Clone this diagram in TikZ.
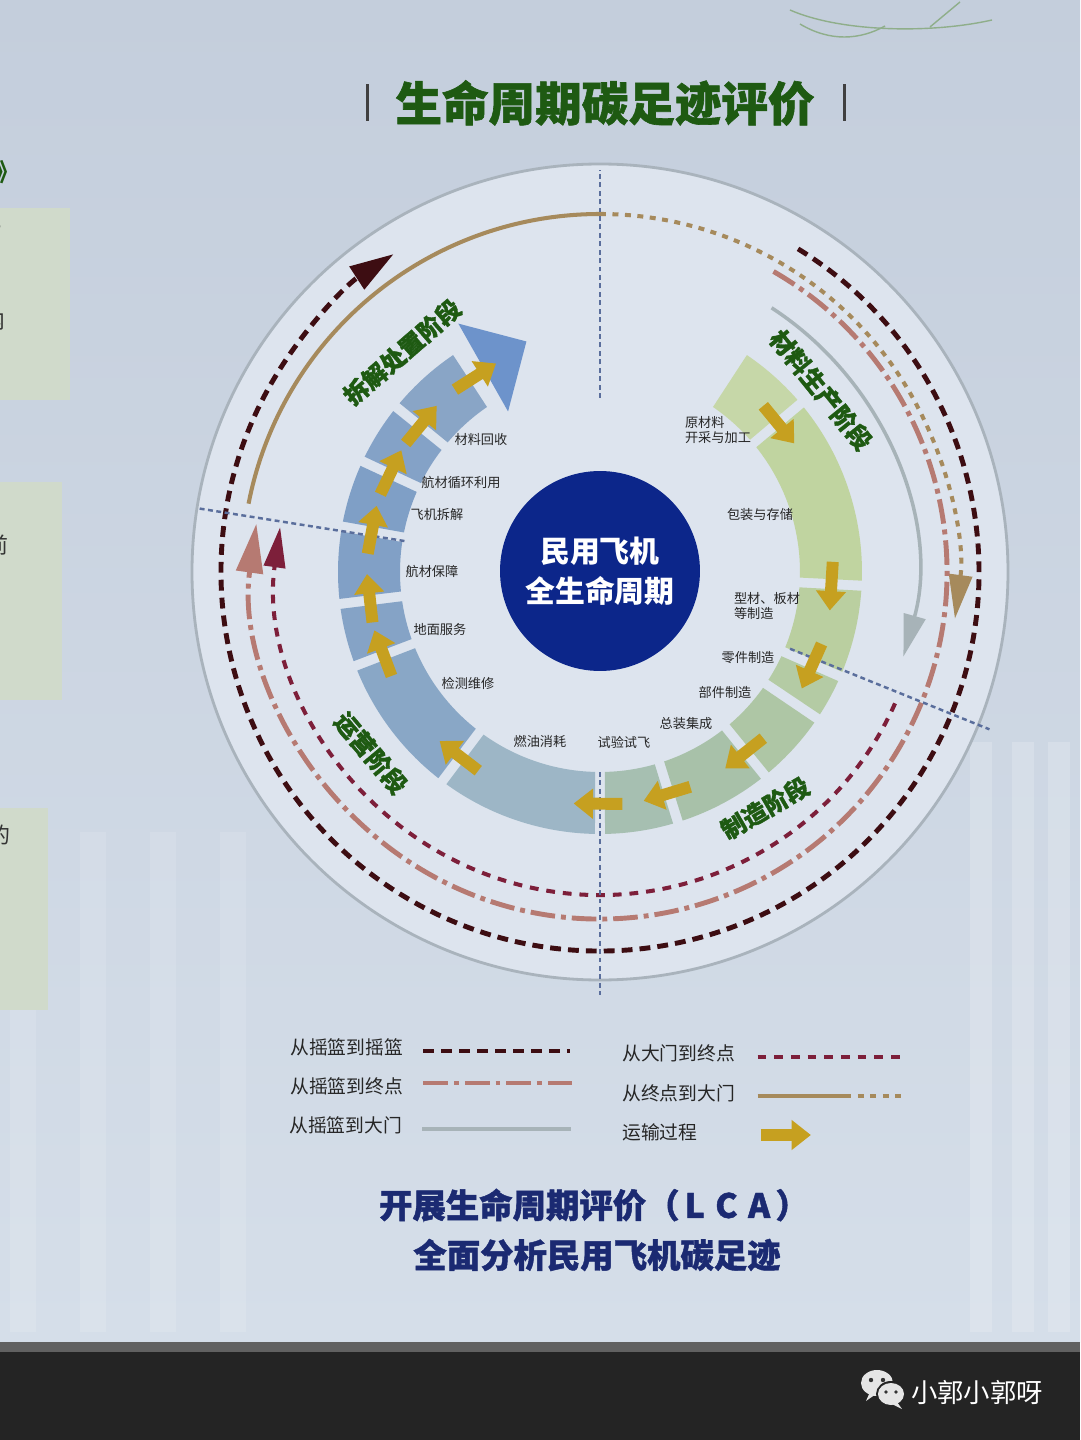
\documentclass[tikz,border=0pt]{standalone}
\usepackage{fontspec}
\setmainfont{Noto Sans CJK SC}
\newfontfamily\heavyfont[BoldFeatures={FakeBold=1.3}]{Noto Sans CJK SC}
\usepackage{tikz}
\usetikzlibrary{arrows.meta, positioning, calc}

\definecolor{TitleGreen}{HTML}{1E5A12}
\definecolor{HubNavy}{HTML}{0C268A}
\definecolor{TextNavy}{HTML}{1B2A72}
\definecolor{TransGold}{HTML}{C6A020}
\definecolor{CradleRed}{HTML}{3D0D12}
\definecolor{GraveRose}{HTML}{B67A72}
\definecolor{GateMaroon}{HTML}{7D1F3A}
\definecolor{GateGray}{HTML}{A7B3B8}
\definecolor{ReturnGold}{HTML}{A68A5C}
\definecolor{DividerBlue}{HTML}{5A6E9C}
\definecolor{RimGray}{HTML}{A9B3BC}
\definecolor{BgTop}{HTML}{C4CEDC}
\definecolor{BgLow}{HTML}{D5DEE9}
\definecolor{BgDisc}{HTML}{DDE4EE}
\definecolor{PanelGreen}{HTML}{D0DACB}
\definecolor{SketchGreen}{HTML}{8FAE8A}
\definecolor{MatA}{HTML}{C6D7A8}
\definecolor{MatB}{HTML}{C0D4A0}
\definecolor{MatC}{HTML}{BACFA0}
\definecolor{ManA}{HTML}{B4CBA4}
\definecolor{ManB}{HTML}{AEC6A5}
\definecolor{ManC}{HTML}{A8C1A9}
\definecolor{ManD}{HTML}{A6BFB1}
\definecolor{OpsA}{HTML}{9DB6C6}
\definecolor{OpsB}{HTML}{89A7C6}
\definecolor{OpsC}{HTML}{85A3C6}
\definecolor{OpsD}{HTML}{81A0C6}
\definecolor{DisA}{HTML}{7F9FC6}
\definecolor{DisB}{HTML}{84A2C7}
\definecolor{DisC}{HTML}{89A5C6}
\definecolor{DisHead}{HTML}{6D93CB}

% one block of the ring: start angle, end angle (clockwise), colour
\newcommand{\ringseg}[3]{%
  \fill[#3] ({#1-1.4}:200) arc[start angle={#1-1.4}, end angle={#2+1.4}, radius=200]
    -- ({#2+1.1}:262) arc[start angle={#2+1.1}, end angle={#1-1.1}, radius=262] -- cycle;}

\begin{document}
\begin{tikzpicture}[x=0.02cm, y=0.02cm,
  seglabel/.style={font=\fontsize{7.5}{9}\selectfont, text=black!85, align=left, inner sep=0pt},
  stagelabel/.style={font=\fontsize{13.8}{15}\selectfont\heavyfont\bfseries, text=TitleGreen, inner sep=0pt},
  legtext/.style={font=\fontsize{10.7}{12}\selectfont, text=black!85, anchor=west, inner sep=0pt},
  slogan/.style={font=\fontsize{19}{21}\selectfont\heavyfont\bfseries, text=TextNavy},
  divider/.style={DividerBlue, line width=1.4pt, dash pattern=on 2.8pt off 2pt},
  transport/.style={TransGold, line width=6.8pt, -{Triangle[width=16.5pt,length=11pt]}},
  cradle/.style={CradleRed, line width=2.8pt, dash pattern=on 6.2pt off 4pt},
  grave/.style={GraveRose, line width=2.8pt, dash pattern=on 14pt off 3.4pt on 2.8pt off 3.4pt},
  gategrave/.style={GateMaroon, line width=2.3pt, dash pattern=on 5pt off 4.5pt},
  gate/.style={GateGray, line width=2pt},
  returnline/.style={ReturnGold, line width=2.3pt},
  returndot/.style={ReturnGold, line width=2.3pt, dash pattern=on 3.4pt off 3.7pt},
  hub/.style={circle, fill=HubNavy, minimum size=4cm, inner sep=0pt, text=white, align=center,
    font=\fontsize{17}{22.7}\selectfont\bfseries}]

  % --- Background ---
  \useasboundingbox (-600,-868) rectangle (480,572);
  \shade[top color=BgTop, bottom color=BgLow] (-600,-770) rectangle (480,572);
  \foreach \sx in {370,412,448} \fill[white, opacity=0.18] (\sx,-170) rectangle ++(22,-590);
  \foreach \sx in {-590,-520,-450,-380} \fill[white, opacity=0.12] (\sx,-260) rectangle ++(26,-500);
  \fill[BgDisc] (0,0) circle[radius=408];
  \fill[PanelGreen] (-600,364) rectangle (-530,172);
  \fill[PanelGreen] (-600,90) rectangle (-538,-128);
  \fill[PanelGreen] (-600,-236) rectangle (-552,-438);
  \node[font=\fontsize{14}{15}\selectfont\bfseries, text=TitleGreen] (edge1) at (-592,400) {》};
  \node[font=\fontsize{12.5}{14}\selectfont, text=black!80] (edge2) at (-596,344) {，};
  \node[font=\fontsize{12.5}{14}\selectfont, text=black!80] (edge3) at (-606,252) {内};
  \node[font=\fontsize{12.5}{14}\selectfont, text=black!80] (edge4) at (-603,27) {前};
  \node[font=\fontsize{12.5}{14}\selectfont, text=black!80] (edge5) at (-601,-263) {的};
  % aircraft sketch, top right
  \draw[SketchGreen, line width=0.8pt] (190,562) .. controls (240,540) and (330,538) .. (392,552);
  \draw[SketchGreen, line width=0.8pt] (200,548) .. controls (230,530) and (260,532) .. (285,546);
  \draw[SketchGreen, line width=0.8pt] (330,545) -- (360,570);

  % --- Title ---
  \node[font=\fontsize{26.5}{28}\selectfont\heavyfont\bfseries, text=TitleGreen] (title) at (5,469) {生命周期碳足迹评价};
  \draw[black!75, line width=1.6pt] ($(title.west)+(-22,-18)$) -- ++(0,37);
  \draw[black!75, line width=1.6pt] ($(title.east)+(24,-18)$) -- ++(0,37);

  % --- Outer flows ---
  \draw[RimGray, line width=1.6pt] (0,0) circle[radius=408];
  \draw[cradle, -{Triangle[width=15pt,length=25pt]}] (58.5:379) arc[start angle=58.5, end angle=-237, radius=379];
  \draw[returnline] (169:358) arc[start angle=169, end angle=90, radius=358];
  \draw[returndot, -{Triangle[width=13pt,length=25pt]}] (90:358) arc[start angle=90, end angle=-7.5, radius=358];
  \draw[grave, -{Triangle[width=15pt,length=28pt]}] (60:347) arc[start angle=60, end angle=-188, radius=347];
  \draw[gategrave, -{Triangle[width=12pt,length=23pt]}] (-24:323) arc[start angle=-24, end angle=-188, radius=323];
  \draw[gate, -{Triangle[width=12.5pt,length=24pt]}] (57:315) arc[start angle=57, end angle=-15.6, radius=315];

  % --- Ring ---
  \ringseg{57}{40}{MatA}
  \ringseg{40}{-3}{MatB}
  \ringseg{-3}{-23.5}{MatC}
  \ringseg{-23.5}{-34}{ManA}
  \ringseg{-34}{-51}{ManB}
  \ringseg{-51}{-72.7}{ManC}
  \ringseg{-72.7}{-90}{ManD}
  \ringseg{-90}{-127}{OpsA}
  \ringseg{-127}{-159}{OpsB}
  \ringseg{-159}{-173}{OpsC}
  \ringseg{-173}{-190}{OpsD}
  \ringseg{170}{155}{DisA}
  \ringseg{155}{141}{DisB}
  \ringseg{141}{123}{DisC}
  \fill[DisHead] (119.7:286) -- (107.7:242) -- (119.8:185) -- cycle;

  % --- Stage dividers ---
  \draw[divider] (90:174) -- (90:402);
  \draw[divider] (-90:200) -- (-90:423);
  \draw[divider] (171:198) -- (171:408);
  \draw[divider] (-22:205) -- (-22:420);

  % --- Transport arrows ---
  \foreach \g in {40,-3,-23.5,-51,-72.7,-90,-127,-159,-173,170,155,141,123}
    \draw[transport] ({\g+5.5}:233) -- ({\g-6.5}:233);

  % --- Step labels ---
  \node[seglabel] (rawmat) at (118,142) {原材料\\开采与加工};
  \node[seglabel] (pack) at (160,58) {包装与存储};
  \node[seglabel] (sheet) at (167,-34) {型材、板材\\等制造};
  \node[seglabel] (part) at (148,-86) {零件制造};
  \node[seglabel] (assy) at (125,-120) {部件制造};
  \node[seglabel] (final) at (86,-152) {总装集成};
  \node[seglabel] (flight) at (24,-170) {试验试飞};
  \node[seglabel] (fuel) at (-60,-169) {燃油消耗};
  \node[seglabel] (mro) at (-132,-111) {检测维修};
  \node[seglabel] (ground) at (-160,-57) {地面服务};
  \node[seglabel] (spares) at (-168,1) {航材保障};
  \node[seglabel] (dismantle) at (-163,57) {飞机拆解};
  \node[seglabel] (reuse) at (-139,90) {航材循环利用};
  \node[seglabel] (recycle) at (-119,132) {材料回收};

  % --- Stage labels ---
  \node[stagelabel, rotate=-51] (stmat) at (221,182) {材料生产阶段};
  \node[stagelabel, rotate=30] (stman) at (165,-236) {制造阶段};
  \node[stagelabel, rotate=-50] (stops) at (-229,-181) {运营阶段};
  \node[stagelabel, rotate=41] (stdis) at (-198,220) {拆解处置阶段};

  % --- Hub ---
  \node[hub] (hub) at (0,1) {民用飞机\\全生命周期};

  % --- Legend ---
  \node[legtext] (lc2c) at (-310,-475) {从摇篮到摇篮};
  \draw[cradle] ($(lc2c.east)+(20,-4)$) -- ++(147,0);
  \node[legtext] (lc2g) at (-310,-514) {从摇篮到终点};
  \draw[grave] ($(lc2g.east)+(20,3)$) -- ++(149,0);
  \node[legtext] (lc2gate) at (-311,-553) {从摇篮到大门};
  \draw[gate] ($(lc2gate.east)+(20,-4)$) -- ++(149,0);
  \node[legtext] (lg2g) at (22,-481) {从大门到终点};
  \draw[gategrave] ($(lg2g.east)+(22,-4)$) -- ++(150,0);
  \node[legtext] (lr2g) at (22,-521) {从终点到大门};
  \draw[returnline] ($(lr2g.east)+(22,-3)$) -- ++(88,0) coordinate (lmid);
  \draw[returndot] (lmid) -- ++(62,0);
  \node[legtext] (ltrans) at (22,-560) {运输过程};
  \draw[transport] ($(ltrans.east)+(63,-3)$) -- ++(50,0);

  % --- Slogan ---
  \node[slogan] (lca) at (-6,-633) {开展生命周期评价（\hspace{3pt}L\hspace{6pt}C\hspace{6pt}A\hspace{3pt}）};
  \node[slogan] (goal) at (-3,-683) {全面分析民用飞机碳足迹};

  % --- Frame edge and watermark ---
  \fill[black!62] (-600,-770) rectangle (480,-780);
  \fill[black!86] (-600,-780) rectangle (480,-868);
  \fill[white!90!black] (277,-811) ellipse[x radius=16, y radius=13];
  \fill[white!90!black] (270,-820) -- (266,-829) -- (276,-822) -- cycle;
  \fill[black!86] (291,-822) ellipse[x radius=15, y radius=13];
  \fill[white!90!black] (291,-822) ellipse[x radius=13, y radius=11];
  \fill[white!90!black] (297,-830) -- (302,-837) -- (292,-832) -- cycle;
  \fill[black!80] (271,-808) circle[radius=2.2];
  \fill[black!80] (283,-808) circle[radius=2.2];
  \fill[black!80] (286,-820) circle[radius=1.8];
  \fill[black!80] (296,-820) circle[radius=1.8];
  \node[font=\fontsize{15}{16}\selectfont, text=white] (wmark) at (377,-820) {小郭小郭呀};
\end{tikzpicture}
\end{document}
